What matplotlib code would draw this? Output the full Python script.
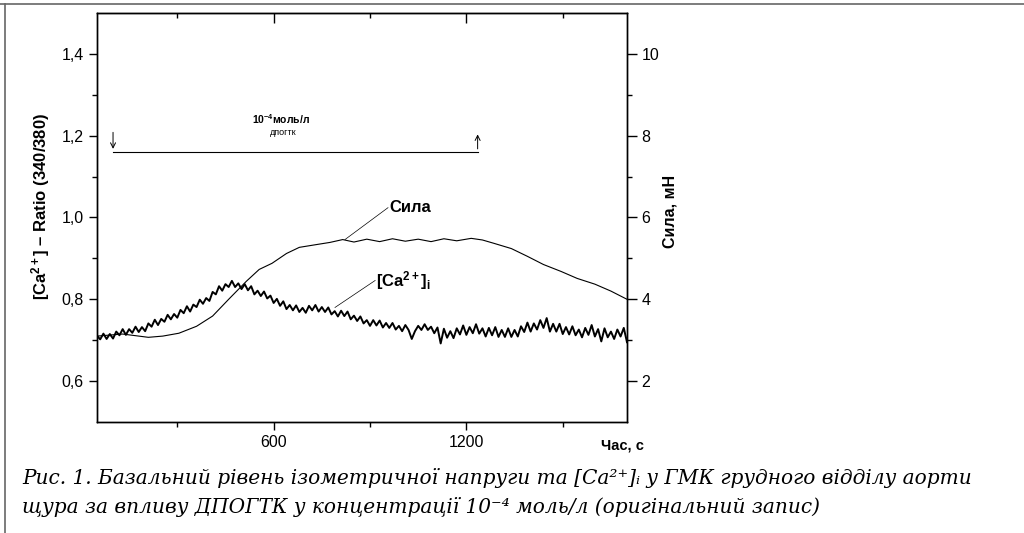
import numpy as np
import matplotlib
matplotlib.use("Agg")
import matplotlib.pyplot as plt
from matplotlib.lines import Line2D

plt.rcParams['font.family'] = ['Liberation Sans', 'DejaVu Sans']
plt.rcParams['mathtext.fontset'] = 'custom'
plt.rcParams['mathtext.rm'] = 'Liberation Sans'
plt.rcParams['mathtext.it'] = 'Liberation Sans:italic'
plt.rcParams['mathtext.bf'] = 'Liberation Sans:bold'

# [Ca2+]i ratio trace, one reading every 10 s (time in s)
ca_t = list(range(50, 1701, 10))
ca_ratio = [
    0.711, 0.702, 0.716, 0.703, 0.715, 0.704, 0.721, 0.712, 0.727, 0.713,
    0.727, 0.718, 0.733, 0.720, 0.732, 0.722, 0.741, 0.733, 0.750, 0.737,
    0.752, 0.745, 0.762, 0.751, 0.764, 0.755, 0.774, 0.766, 0.783, 0.770,
    0.787, 0.781, 0.799, 0.789, 0.803, 0.796, 0.818, 0.812, 0.832, 0.821,
    0.837, 0.830, 0.845, 0.830, 0.839, 0.825, 0.837, 0.822, 0.832, 0.812,
    0.821, 0.808, 0.819, 0.802, 0.809, 0.791, 0.801, 0.784, 0.795, 0.776,
    0.786, 0.773, 0.785, 0.769, 0.779, 0.767, 0.784, 0.773, 0.786, 0.770,
    0.781, 0.769, 0.780, 0.763, 0.771, 0.758, 0.772, 0.759, 0.770, 0.751,
    0.760, 0.747, 0.758, 0.741, 0.749, 0.735, 0.749, 0.736, 0.748, 0.731,
    0.742, 0.730, 0.742, 0.726, 0.735, 0.722, 0.737, 0.725, 0.703, 0.722,
    0.735, 0.725, 0.739, 0.725, 0.733, 0.717, 0.731, 0.692, 0.728, 0.706,
    0.722, 0.705, 0.729, 0.714, 0.736, 0.713, 0.732, 0.717, 0.739, 0.716,
    0.729, 0.709, 0.730, 0.712, 0.732, 0.708, 0.725, 0.708, 0.729, 0.708,
    0.725, 0.709, 0.734, 0.720, 0.743, 0.721, 0.741, 0.726, 0.749, 0.730,
    0.754, 0.721, 0.740, 0.721, 0.740, 0.715, 0.732, 0.714, 0.734, 0.712,
    0.726, 0.707, 0.730, 0.713, 0.737, 0.709, 0.727, 0.697, 0.729, 0.707,
    0.721, 0.703, 0.726, 0.709, 0.730, 0.695,
]

# isometric force (mN)
force_t = [50, 130, 210, 255, 305, 360, 410, 460, 515, 555, 595, 640, 680, 735,
           775, 815, 850, 890, 930, 970, 1010, 1050, 1090, 1130, 1170, 1215,
           1250, 1285, 1340, 1390, 1440, 1495, 1545, 1600, 1650, 1700]
force_mn = [3.10, 3.15, 3.07, 3.10, 3.17, 3.34, 3.59, 4.00, 4.44, 4.73, 4.88,
            5.12, 5.27, 5.34, 5.39, 5.46, 5.40, 5.47, 5.41, 5.48, 5.42, 5.47,
            5.41, 5.48, 5.43, 5.49, 5.45, 5.37, 5.24, 5.05, 4.85, 4.68, 4.51,
            4.37, 4.20, 4.00]

x_major = [600, 1200]
x_minor = [300, 900, 1500]
left_major = [0.6, 0.8, 1.0, 1.2, 1.4]
left_minor = [0.7, 0.9, 1.1, 1.3]
left_labels = ['0,6', '0,8', '1,0', '1,2', '1,4']
right_major = [2, 4, 6, 8, 10]
right_minor = [3, 5, 7, 9]

drug_start, drug_end = 100, 1235

fig = plt.figure(figsize=(10.24, 5.33), dpi=100)
ax = fig.add_axes([0.0947, 0.2083, 0.5176, 0.7673])
ax2 = ax.twinx()

ax.plot(ca_t, ca_ratio, color='black', lw=1.4)
ax2.plot(force_t, force_mn, color='black', lw=0.8)

ax.set_xlim(50, 1700)
ax.set_ylim(0.5, 1.5)
ax2.set_ylim(1, 11)

ax.set_xticks(x_major)
ax.set_xticks(x_minor, minor=True)
ax.set_xticklabels(['600', '1200'])
ax.set_yticks(left_major)
ax.set_yticks(left_minor, minor=True)
ax.set_yticklabels(left_labels)
ax2.set_yticks(right_major)
ax2.set_yticks(right_minor, minor=True)

ax.tick_params(which='major', direction='out', length=6, width=1.0, labelsize=11.5)
ax.tick_params(which='minor', direction='out', length=3.5, width=1.0)
ax2.tick_params(which='major', direction='out', length=7, width=1.0, labelsize=11.5)
ax2.tick_params(which='minor', direction='out', length=3.5, width=1.0)

top = ax.secondary_xaxis('top')
top.set_xticks(x_major)
top.set_xticks(x_minor, minor=True)
top.tick_params(which='major', direction='in', length=7, width=1.0, labeltop=False)
top.tick_params(which='minor', direction='in', length=3.5, width=1.0)

for a in (ax, ax2):
    for s in a.spines.values():
        s.set_linewidth(1.0)

# drug application bracket
ax.annotate('', xy=(drug_start, 1.161), xytext=(drug_start, 1.215),
            arrowprops=dict(arrowstyle='->', lw=0.7, mutation_scale=9))
ax.plot([drug_start, drug_end], [1.161, 1.161], color='black', lw=0.8)
ax.annotate('', xy=(drug_end, 1.21), xytext=(drug_end, 1.161),
            arrowprops=dict(arrowstyle='->', lw=0.7, mutation_scale=9))
ax.text(622, 1.241, r'$\mathbf{10^{-4}}$моль/л', fontsize=7.5, fontweight='bold',
        ha='center', va='center')
ax.text(631, 1.207, 'дпогтк', fontsize=6.5, ha='center', va='center')

# curve labels
ax.plot([956, 822], [1.024, 0.946], color='black', lw=0.5)
ax.text(960, 1.024, 'Сила', fontsize=12, fontweight='bold', ha='left', va='center')
ax.plot([916, 791], [0.846, 0.780], color='black', lw=0.5)
ax.text(920, 0.846, r'$\mathbf{[Ca^{2+}]_{i}}$', fontsize=12, ha='left', va='center')

fig.text(41 / 1024, 1 - 206 / 533, r'$\mathbf{[Ca^{2+}]}$ – Ratio (340/380)',
         rotation=90, fontsize=12, fontweight='bold', ha='center', va='center')
fig.text(670 / 1024, 1 - 211 / 533, 'Сила, мН', rotation=90, fontsize=11.5,
         fontweight='bold', ha='center', va='center')
fig.text(622 / 1024, 1 - 446 / 533, 'Час, с', fontsize=10.5, fontweight='bold',
         ha='center', va='center')

cap_font = dict(family=['DejaVu Serif', 'DejaVu Sans'], style='italic', fontsize=14.5)
fig.text(22 / 1024, 1 - 478 / 533,
         'Рис. 1. Базальний рівень ізометричної напруги та [Ca²⁺]ᵢ у ГМК грудного відділу аорти',
         ha='left', va='center', **cap_font)
fig.text(22 / 1024, 1 - 507 / 533,
         'щура за впливу ДПОГТК у концентрації 10⁻⁴ моль/л (оригінальний запис)',
         ha='left', va='center', **cap_font)

# page frame
fig.add_artist(Line2D([0, 1], [1 - 4 / 533, 1 - 4 / 533], transform=fig.transFigure,
                      color='#666666', lw=1.2))
fig.add_artist(Line2D([5 / 1024, 5 / 1024], [0, 1 - 4 / 533], transform=fig.transFigure,
                      color='#666666', lw=1.2))

fig.savefig('out.png', dpi=100)
